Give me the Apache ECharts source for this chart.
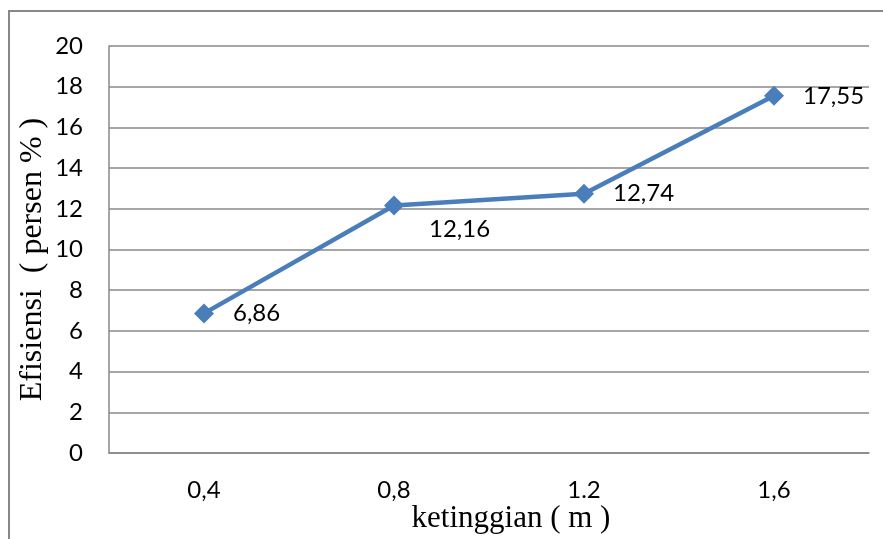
<!DOCTYPE html>
<html>
<head>
<meta charset="utf-8">
<script src="https://cdn.jsdelivr.net/npm/echarts@6/dist/echarts.min.js"></script>
<style>html,body{margin:0;padding:0;background:#fff}#c{width:883px;height:539px}</style>
</head>
<body>
<div id="c"></div>
<script>
const categories = ['0,4', '0,8', '1.2', '1,6'];
const values = [6.86, 12.16, 12.74, 17.55];
const valueLabels = ['6,86', '12,16', '12,74', '17,55'];
const yTicks = [0, 2, 4, 6, 8, 10, 12, 14, 16, 18, 20];

const labelFont = 'Lato, "Open Sans", sans-serif';
const serifFont = '"Liberation Serif", "Times New Roman", serif';
const chart = echarts.init(document.getElementById('c'));
const data = values.map((v, i) => {
  const item = { value: v, label: { formatter: valueLabels[i] } };
  if (i === 1) item.label.offset = [6, 24];
  return item;
});
chart.setOption({
  animation: false,
  graphic: [{
    type: 'rect', shape: { x: 9, y: 11, width: 1000, height: 700 },
    style: { fill: 'none', stroke: '#888', lineWidth: 2 }, silent: true
  }],
  grid: { left: 109, right: 14, top: 46, bottom: 86, containLabel: false, outerBoundsMode: 'none' },
  xAxis: {
    type: 'category', data: categories, boundaryGap: true,
    name: 'ketinggian ( m )', nameLocation: 'middle', nameGap: 50, nameMoveOverlap: false,
    nameTextStyle: { fontFamily: serifFont, fontSize: 31, color: '#000', padding: [0, 0, 0, 44] },
    axisLine: { lineStyle: { color: '#888', width: 1.5 } },
    axisTick: { length: 7, lineStyle: { color: '#888', width: 1.5 } },
    axisLabel: { fontFamily: labelFont, fontSize: 24, color: '#000', margin: 25 }
  },
  yAxis: {
    type: 'value', min: 0, max: 20, interval: 2,
    name: 'Efisiensi  ( persen % )', nameLocation: 'middle', nameGap: 60, nameMoveOverlap: false,
    nameTextStyle: { fontFamily: serifFont, fontSize: 32, color: '#000', padding: [0, 20, 0, 0] },
    axisLine: { show: true, lineStyle: { color: '#888', width: 1.5 } },
    axisTick: { show: false },
    splitLine: { lineStyle: { color: '#888', width: 1.5 } },
    axisLabel: { fontFamily: labelFont, fontSize: 24, color: '#000', margin: 26,
      formatter: v => yTicks.includes(v) ? String(v) : '' }
  },
  series: [{
    type: 'line', data: data,
    symbol: 'diamond', symbolSize: 20,
    lineStyle: { color: '#4a7ebb', width: 4.5 },
    itemStyle: { color: '#4a7ebb' },
    label: { show: true, position: 'right', distance: 19,
      fontFamily: labelFont, fontSize: 24, color: '#000' }
  }]
});
</script>
</body>
</html>
